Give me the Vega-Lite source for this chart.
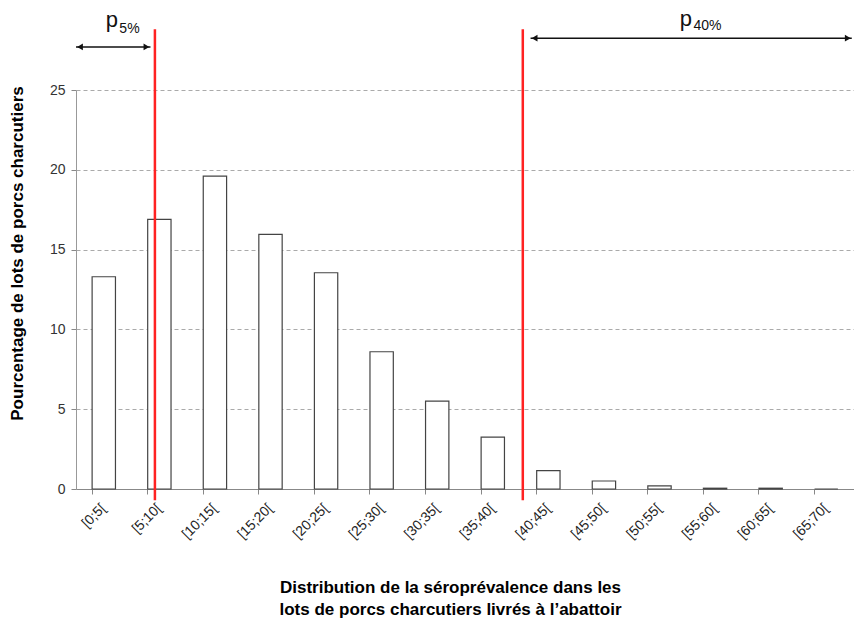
{
  "$schema": "https://vega.github.io/schema/vega-lite/v6.json",
  "width": 778,
  "height": 399,
  "autosize": {"type": "none"},
  "padding": {"left": 76, "top": 90, "right": 0, "bottom": 140},
  "background": "white",
  "config": {
    "font": "Liberation Sans",
    "view": {"stroke": null}
  },
  "datasets": {
    "classes": [
      {"classe": "[0;5[", "pct": 13.3},
      {"classe": "[5;10[", "pct": 16.9},
      {"classe": "[10;15[", "pct": 19.6},
      {"classe": "[15;20[", "pct": 15.95},
      {"classe": "[20;25[", "pct": 13.55},
      {"classe": "[25;30[", "pct": 8.6},
      {"classe": "[30;35[", "pct": 5.5},
      {"classe": "[35;40[", "pct": 3.25},
      {"classe": "[40;45[", "pct": 1.15},
      {"classe": "[45;50[", "pct": 0.5},
      {"classe": "[50;55[", "pct": 0.2},
      {"classe": "[55;60[", "pct": 0.05},
      {"classe": "[60;65[", "pct": 0.05},
      {"classe": "[65;70[", "pct": 0}
    ],
    "seuils": [
      {"seuil": "p5%", "valeur": 7.1, "debut": 0, "fin": 6.7},
      {"seuil": "p40%", "valeur": 40.2, "debut": 40.9, "fin": 69.8}
    ]
  },
  "layer": [
    {
      "data": {"name": "classes"},
      "mark": {"type": "bar", "fill": "white", "stroke": "#444", "strokeWidth": 1.2},
      "encoding": {
        "x": {
          "field": "classe", "type": "ordinal", "sort": null,
          "scale": {"paddingInner": 0.58, "paddingOuter": 0.29},
          "axis": {
            "title": ["Distribution de la séroprévalence dans les", "lots de porcs charcutiers livrés à l’abattoir"],
            "titleFontSize": 17, "titleFontWeight": "bold", "titleColor": "#000",
            "titleX": 374, "titleY": 90, "titleBaseline": "top", "titleLineHeight": 22,
            "labelAngle": -45, "labelAlign": "right", "labelBaseline": "middle",
            "labelFontSize": 14, "labelColor": "#222",
            "bandPosition": 0, "labelPadding": 12,
            "tickSize": 5, "tickColor": "#888", "domainColor": "#888", "grid": false
          }
        },
        "y": {
          "field": "pct", "type": "quantitative",
          "scale": {"domain": [0, 25], "nice": false},
          "axis": {
            "title": "Pourcentage de lots de porcs charcutiers",
            "titleFontSize": 17, "titleFontWeight": "bold", "titleColor": "#000",
            "titleX": -50, "titleY": 163,
            "values": [0, 5, 10, 15, 20, 25],
            "grid": true, "gridDash": [4, 3], "gridColor": "#aaa",
            "tickSize": 5, "tickColor": "#888", "domainColor": "#999",
            "labelFontSize": 14, "labelColor": "#333", "labelPadding": 6
          }
        }
      }
    },
    {
      "data": {"name": "seuils"},
      "layer": [
        {
          "mark": {"type": "rule", "color": "#ff2222", "strokeWidth": 2.5},
          "encoding": {
            "x": {"field": "valeur", "type": "quantitative", "scale": {"domain": [0, 70]}, "axis": null},
            "y": {"datum": -0.7},
            "y2": {"datum": 28.8}
          }
        },
        {
          "transform": [{"filter": "datum.seuil == 'p5%'"}],
          "mark": {"type": "rule", "color": "#111", "strokeWidth": 1.5},
          "encoding": {
            "x": {"field": "debut", "type": "quantitative", "axis": null},
            "x2": {"field": "fin"},
            "y": {"datum": 27.7}
          }
        },
        {
          "transform": [{"filter": "datum.seuil == 'p5%'"}],
          "mark": {"type": "point", "shape": "triangle-left", "filled": true, "color": "#111", "size": 45, "opacity": 1, "xOffset": 4},
          "encoding": {
            "x": {"field": "debut", "type": "quantitative", "axis": null},
            "y": {"datum": 27.7}
          }
        },
        {
          "transform": [{"filter": "datum.seuil == 'p5%'"}],
          "mark": {"type": "point", "shape": "triangle-right", "filled": true, "color": "#111", "size": 45, "opacity": 1, "xOffset": -4},
          "encoding": {
            "x": {"field": "fin", "type": "quantitative", "axis": null},
            "y": {"datum": 27.7}
          }
        },
        {
          "transform": [{"filter": "datum.seuil == 'p40%'"}],
          "mark": {"type": "rule", "color": "#111", "strokeWidth": 1.5},
          "encoding": {
            "x": {"field": "debut", "type": "quantitative", "axis": null},
            "x2": {"field": "fin"},
            "y": {"datum": 28.25}
          }
        },
        {
          "transform": [{"filter": "datum.seuil == 'p40%'"}],
          "mark": {"type": "point", "shape": "triangle-left", "filled": true, "color": "#111", "size": 45, "opacity": 1, "xOffset": 4},
          "encoding": {
            "x": {"field": "debut", "type": "quantitative", "axis": null},
            "y": {"datum": 28.25}
          }
        },
        {
          "transform": [{"filter": "datum.seuil == 'p40%'"}],
          "mark": {"type": "point", "shape": "triangle-right", "filled": true, "color": "#111", "size": 45, "opacity": 1, "xOffset": -4},
          "encoding": {
            "x": {"field": "fin", "type": "quantitative", "axis": null},
            "y": {"datum": 28.25}
          }
        },
        {
          "transform": [{"filter": "datum.seuil == 'p5%'"}],
          "mark": {"type": "text", "text": "p", "fontSize": 22, "align": "right", "baseline": "alphabetic", "color": "#111"},
          "encoding": {
            "x": {"datum": 3.78, "type": "quantitative", "axis": null},
            "y": {"datum": 28.95}
          }
        },
        {
          "transform": [{"filter": "datum.seuil == 'p5%'"}],
          "mark": {"type": "text", "text": "5%", "fontSize": 14, "align": "left", "baseline": "alphabetic", "color": "#111"},
          "encoding": {
            "x": {"datum": 3.9, "type": "quantitative", "axis": null},
            "y": {"datum": 28.57}
          }
        },
        {
          "transform": [{"filter": "datum.seuil == 'p40%'"}],
          "mark": {"type": "text", "text": "p", "fontSize": 22, "align": "right", "baseline": "alphabetic", "color": "#111"},
          "encoding": {
            "x": {"datum": 55.43, "type": "quantitative", "axis": null},
            "y": {"datum": 29.0}
          }
        },
        {
          "transform": [{"filter": "datum.seuil == 'p40%'"}],
          "mark": {"type": "text", "text": "40%", "fontSize": 14, "align": "left", "baseline": "alphabetic", "color": "#111"},
          "encoding": {
            "x": {"datum": 55.55, "type": "quantitative", "axis": null},
            "y": {"datum": 28.76}
          }
        }
      ]
    }
  ],
  "resolve": {"scale": {"x": "independent"}, "axis": {"x": "independent"}}
}
